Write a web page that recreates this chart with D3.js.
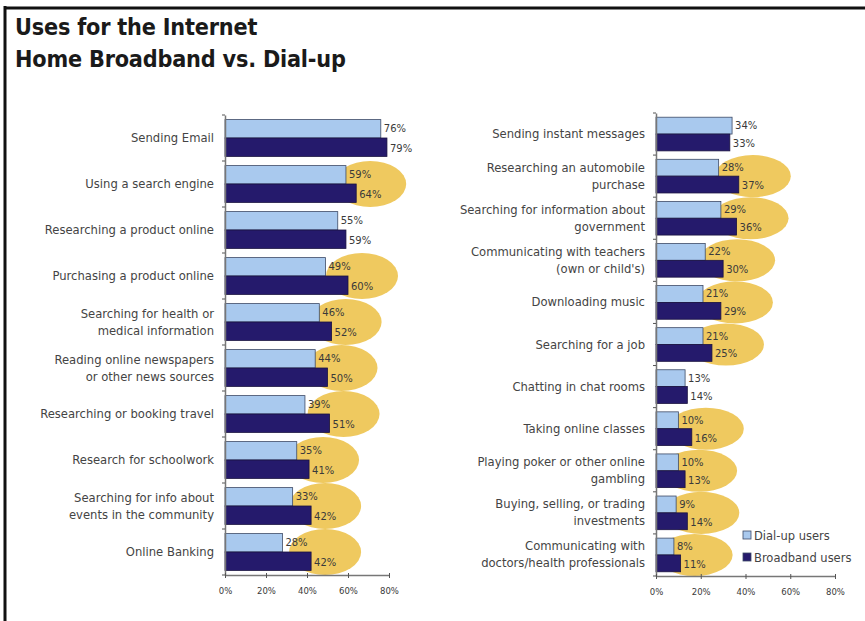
<!DOCTYPE html>
<html><head><meta charset="utf-8">
<script src="https://cdn.jsdelivr.net/npm/d3@7"></script>
<style>body{margin:0;background:#fff}svg{display:block}</style>
</head><body>
<svg id="c" width="865" height="621"></svg>
<script>
const titleLines = ["Uses for the Internet", "Home Broadband vs. Dial-up"];
const leftCategories = ["Sending Email","Using a search engine","Researching a product online","Purchasing a product online","Searching for health or\nmedical information","Reading online newspapers\nor other news sources","Researching or booking travel","Research for schoolwork","Searching for info about\nevents in the community","Online Banking"];
const leftDialup = [76,59,55,49,46,44,39,35,33,28];
const leftBroadband = [79,64,59,60,52,50,51,41,42,42];
const leftHighlight = [false,true,false,true,true,true,true,true,true,true];
const rightCategories = ["Sending instant messages","Researching an automobile\npurchase","Searching for information about\ngovernment","Communicating with teachers\n(own or child's)","Downloading music","Searching for a job","Chatting in chat rooms","Taking online classes","Playing poker or other online\ngambling","Buying, selling, or trading\ninvestments","Communicating with\ndoctors/health professionals"];
const rightDialup = [34,28,29,22,21,21,13,10,10,9,8];
const rightBroadband = [33,37,36,30,29,25,14,16,13,14,11];
const rightHighlight = [false,true,true,true,true,true,false,true,true,true,true];
const tickValues = [0,20,40,60,80];
const legendLabels = ["Dial-up users","Broadband users"];

const LIGHT = "#a9c9ee", DARK = "#251a6c", YELLOW = "#efc95f", TEXT = "#3a3a3a";
const svg = d3.select("#c");
const font = "DejaVu Sans, Verdana, sans-serif";

// frame
svg.append("line").attr("x1",5).attr("x2",5).attr("y1",6).attr("y2",621).attr("stroke","#111").attr("stroke-width",3);
svg.append("line").attr("x1",4).attr("x2",865).attr("y1",8).attr("y2",8).attr("stroke","#111").attr("stroke-width",3);

// title
svg.selectAll("text.title").data(titleLines).join("text").attr("class","title")
  .attr("x",15).attr("y",(d,i)=>35+i*32).attr("font-family","DejaVu Sans Condensed, DejaVu Sans, sans-serif")
  .attr("font-stretch","condensed").attr("font-weight","bold")
  .attr("font-size",23.2).attr("fill","#1a1a1a").attr("letter-spacing",-0.2).text(d=>d);

function panel(cats, dial, broad, hl, x0, x1, y0, y1, rx) {
  const x = d3.scaleLinear().domain([0,80]).range([x0,x1]);
  const y = d3.scaleBand().domain(d3.range(cats.length)).range([y0,y1]);
  const bw = y.bandwidth(), barH = bw*0.4, off = bw*0.1;
  const g = svg.append("g");
  // highlight ellipses
  g.selectAll("ellipse").data(d3.range(cats.length).filter(i=>hl[i])).join("ellipse")
    .attr("cx", i=>x(broad[i])+14).attr("cy", i=>y(i)+bw/2)
    .attr("rx", rx).attr("ry", bw*0.5).attr("fill", YELLOW);
  // bars
  g.selectAll("rect.d").data(dial).join("rect").attr("class","d")
    .attr("x",x(0)).attr("y",(d,i)=>y(i)+off).attr("width",d=>x(d)-x(0)).attr("height",barH)
    .attr("fill",LIGHT).attr("stroke","#3d4a66").attr("stroke-width",0.8);
  g.selectAll("rect.b").data(broad).join("rect").attr("class","b")
    .attr("x",x(0)).attr("y",(d,i)=>y(i)+off+barH).attr("width",d=>x(d)-x(0)).attr("height",barH)
    .attr("fill",DARK).attr("stroke","#1a1240").attr("stroke-width",0.8);
  // value labels
  g.selectAll("text.vd").data(dial).join("text").attr("class","vd")
    .attr("x",d=>x(d)+3).attr("y",(d,i)=>y(i)+off+barH/2+3.5)
    .attr("font-family",font).attr("font-size",10).attr("fill",TEXT).text(d=>d+"%");
  g.selectAll("text.vb").data(broad).join("text").attr("class","vb")
    .attr("x",d=>x(d)+3).attr("y",(d,i)=>y(i)+off+barH*1.5+4.5)
    .attr("font-family",font).attr("font-size",10).attr("fill",TEXT).text(d=>d+"%");
  // category labels
  const cl = g.selectAll("text.cat").data(cats).join("text").attr("class","cat")
    .attr("text-anchor","end").attr("font-family",font).attr("font-size",11.6).attr("fill","#444");
  cl.each(function(d,i){
    const lines = d.split("\n");
    const t = d3.select(this);
    lines.forEach((ln,k)=>{
      t.append("tspan").attr("x",x0-11)
        .attr("y", y(i)+bw/2 + 4 + (k-(lines.length-1)/2)*17).text(ln);
    });
  });
  // axes
  const ya = g.append("g").attr("transform",`translate(${x0},0)`)
    .call(d3.axisLeft(y).tickValues([]).tickSizeOuter(0));
  ya.select(".domain").attr("stroke","#777").attr("stroke-width",1.5);
  ya.selectAll(".bt").data(d3.range(cats.length+1)).join("line").attr("class","bt")
    .attr("x1",-3).attr("x2",0).attr("y1",i=>y0+i*bw).attr("y2",i=>y0+i*bw).attr("stroke","#555");
  const xa = g.append("g").attr("transform",`translate(0,${y1})`)
    .call(d3.axisBottom(x).tickValues(tickValues).tickSize(3).tickSizeOuter(0).tickFormat(d=>d+"%"));
  xa.select(".domain").attr("stroke","#777").attr("stroke-width",1.5);
  xa.selectAll(".tick line").attr("stroke","#555").attr("y1",-2);
  xa.selectAll(".tick text").attr("font-family",font).attr("font-size",8.5).attr("fill",TEXT).attr("dy","1.55em");
}

panel(leftCategories, leftDialup, leftBroadband, leftHighlight, 225, 389, 115, 575, 36);
panel(rightCategories, rightDialup, rightBroadband, rightHighlight, 656, 835, 113, 576, 38);

// legend
const lg = svg.append("g");
lg.selectAll("rect").data(legendLabels).join("rect")
  .attr("x",743).attr("y",(d,i)=>531+i*22).attr("width",8).attr("height",8)
  .attr("fill",(d,i)=>i?DARK:LIGHT).attr("stroke","#3d4a66").attr("stroke-width",0.8);
lg.selectAll("text").data(legendLabels).join("text")
  .attr("x",754).attr("y",(d,i)=>539.5+i*22).attr("font-family",font).attr("font-size",11.5)
  .attr("fill","#444").text(d=>d);
</script>
</body></html>
